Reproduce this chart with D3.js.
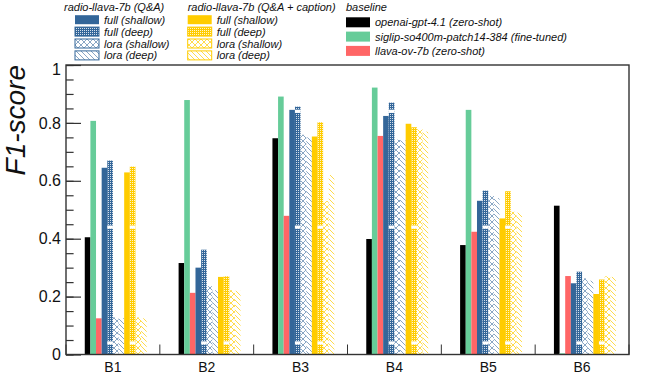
<!DOCTYPE html>
<html><head><meta charset="utf-8">
<script src="https://cdn.jsdelivr.net/npm/d3@7"></script>
<style>
body{margin:0;background:#fff}
svg{display:block}
text{font-family:"Liberation Sans",Arial,Helvetica,sans-serif}
</style>
</head><body><svg id="c" width="662" height="383"></svg>
<script>
// ---------------- data ----------------
const categories = ["B1","B2","B3","B4","B5","B6"];
const gpt41          = [0.405,0.316,0.747,0.399,0.378,0.514];
const siglip         = [0.807,0.879,0.891,0.922,0.845,0.004];
const llavaOv        = [0.125,0.213,0.479,0.755,0.424,0.271];
const qaFullShallow  = [0.645,0.300,0.845,0.824,0.531,0.246];
const qaFullDeep     = [0.670,0.362,0.856,0.870,0.566,0.286];
const qaLoraShallow  = [0.128,0.236,0.759,0.742,0.548,0.263];
const qaLoraDeep     = [0.125,0.222,0.750,0.740,0.540,0.255];
const capFullShallow = [0.629,0.268,0.753,0.797,0.470,0.209];
const capFullDeep    = [0.649,0.270,0.802,0.785,0.564,0.259];
const capLoraShallow = [0.128,0.222,0.530,0.778,0.493,0.270];
const capLoraDeep    = [0.125,0.220,0.620,0.770,0.490,0.268];
const yTickValues = [0,0.2,0.4,0.6,0.8,1];
const yTickLabels = ["0","0.2","0.4","0.6","0.8","1"];
const yAxisTitle = "F1-score";

// ---------------- styles ----------------
const BLUE = "#336699", YELLOW = "#ffcc00", GREEN = "#66cc99", RED = "#ff6666", BLACK = "#000000";
const series = [
  {key:"gpt",  label:"openai-gpt-4.1 (zero-shot)",           values:gpt41,          color:BLACK,  style:"solid"},
  {key:"sig",  label:"siglip-so400m-patch14-384 (fine-tuned)",values:siglip,        color:GREEN,  style:"solid"},
  {key:"ov",   label:"llava-ov-7b (zero-shot)",              values:llavaOv,        color:RED,    style:"solid"},
  {key:"qfs",  label:"full (shallow)", values:qaFullShallow,  color:BLUE,   style:"solid"},
  {key:"qfd",  label:"full (deep)",    values:qaFullDeep,     color:BLUE,   style:"dots"},
  {key:"qls",  label:"lora (shallow)", values:qaLoraShallow,  color:BLUE,   style:"cross"},
  {key:"qld",  label:"lora (deep)",    values:qaLoraDeep,     color:BLUE,   style:"diag"},
  {key:"cfs",  label:"full (shallow)", values:capFullShallow, color:YELLOW, style:"solid"},
  {key:"cfd",  label:"full (deep)",    values:capFullDeep,    color:YELLOW, style:"dots"},
  {key:"cls",  label:"lora (shallow)", values:capLoraShallow, color:YELLOW, style:"cross"},
  {key:"cld",  label:"lora (deep)",    values:capLoraDeep,    color:YELLOW, style:"diag"}
];
const stripeLevels = [0.04,0.44,0.84];

const svg = d3.select("#c");
const L = 66, R = 629, T = 65, B = 354.5;
const FRAME = "#333";

// ---------------- patterns ----------------
const defs = svg.append("defs");
function lighten(c, k){ return d3.interpolateRgb(c, "#ffffff")(k); }
function pid(color, style){ return style + "-" + color.replace("#",""); }
[BLUE, YELLOW].forEach(col => {
  const d = defs.append("pattern").attr("id", pid(col,"dots"))
    .attr("patternUnits","userSpaceOnUse").attr("width",2).attr("height",2);
  d.append("rect").attr("width",2).attr("height",2).attr("fill",col);
  d.append("rect").attr("width",1).attr("height",1).attr("fill","#fff").attr("opacity",0.8);

  const lc = lighten(col, col===BLUE ? 0.42 : 0.3);
  const c = defs.append("pattern").attr("id", pid(col,"cross"))
    .attr("patternUnits","userSpaceOnUse").attr("width",6).attr("height",6);
  c.append("path").attr("d","M0,0L6,6M6,0L0,6M-1,5L1,7M5,-1L7,1M-1,1L1,-1M5,7L7,5")
    .attr("stroke",lc).attr("stroke-width",1).attr("fill","none");

  const g = defs.append("pattern").attr("id", pid(col,"diag"))
    .attr("patternUnits","userSpaceOnUse").attr("width",5).attr("height",5);
  g.append("path").attr("d","M0,0L5,5M-1,4L1,6M4,-1L6,1")
    .attr("stroke",lc).attr("stroke-width",1).attr("fill","none");
});
function fillFor(s){ return s.style==="solid" ? s.color : "url(#"+pid(s.color,s.style)+")"; }

// ---------------- scales ----------------
const x = d3.scaleBand().domain(categories).range([L,R]).padding(0);
const bw = x.bandwidth();
const inner = d3.scaleBand().domain(series.map(s=>s.key))
  .range([0.2*bw, 0.2*bw + series.length*0.06*bw]).padding(0);
const y = d3.scaleLinear().domain([0,1]).range([B,T]);

// ---------------- bars ----------------
const barsG = svg.append("g");
series.forEach(s => {
  const g = barsG.append("g");
  g.selectAll("rect").data(categories.map((c,i)=>({c, v:s.values[i]})))
    .join("rect")
    .attr("x", d => x(d.c) + inner(s.key))
    .attr("width", inner.bandwidth())
    .attr("y", d => y(d.v))
    .attr("height", d => y(0) - y(d.v))
    .attr("fill", fillFor(s));
  if (s.style === "dots") {
    const stripes = [];
    categories.forEach((c,i)=> stripeLevels.forEach(l => { if (l < s.values[i]) stripes.push({c, l}); }));
    g.selectAll("rect.st").data(stripes).join("rect").attr("class","st")
      .attr("x", d => x(d.c) + inner(s.key))
      .attr("width", inner.bandwidth())
      .attr("y", d => y(d.l) - 1.6)
      .attr("height", 3.2)
      .attr("fill", "#fff");
  }
});

// ---------------- axes ----------------
const yMinor = d3.range(0, 1.0001, 0.05);
svg.append("g").attr("transform",`translate(${L},0)`)
  .call(d3.axisLeft(y).tickValues(yMinor).tickSizeInner(-7.6).tickSizeOuter(0).tickFormat(""))
  .call(g => { g.select(".domain").remove(); g.selectAll("line").attr("stroke",FRAME).attr("stroke-width",1.2); });
svg.append("g").attr("transform",`translate(${L},0)`)
  .call(d3.axisLeft(y).tickValues(yTickValues).tickSizeInner(-15).tickSizeOuter(0).tickPadding(5)
        .tickFormat((d,i)=>yTickLabels[i]))
  .call(g => {
    g.select(".domain").remove();
    g.selectAll("line").attr("stroke",FRAME).attr("stroke-width",1.2);
    g.selectAll("text").attr("font-size",16).attr("fill","#111")
      .attr("font-family",'"Liberation Sans",Arial,sans-serif')
      .attr("dy", d => d === 1 ? "0.62em" : "0.32em");
  });

// x boundary ticks
const bounds = categories.map(c => x(c)).concat([R]);
svg.append("g").selectAll("line").data(bounds).join("line")
  .attr("x1",d=>d).attr("x2",d=>d).attr("y1",B).attr("y2",B-10)
  .attr("stroke",FRAME).attr("stroke-width",1);

svg.append("g").attr("transform",`translate(0,${B})`)
  .call(d3.axisBottom(x).tickSize(0).tickPadding(7.3))
  .call(g => {
    g.select(".domain").remove();
    g.selectAll("text").attr("font-size",14).attr("fill","#111")
      .attr("font-family",'"Liberation Sans",Arial,sans-serif');
  });

// frame
svg.append("rect").attr("x",L).attr("y",T).attr("width",R-L).attr("height",B-T)
  .attr("fill","none").attr("stroke",FRAME).attr("stroke-width",1.4);

// y title
svg.append("text").attr("transform",`translate(25,${T}) rotate(-90)`)
  .attr("text-anchor","end").attr("font-size",28).attr("font-style","italic").attr("fill","#111")
  .text(yAxisTitle);

// ---------------- legend ----------------
const legendCols = [
  {title:"radio-llava-7b (Q&A)",           x:64,  sx:75,  tx:104, keys:["qfs","qfd","qls","qld"], y0:19.7, dy:11.9, h:9},
  {title:"radio-llava-7b (Q&A + caption)", x:187.7, sx:187.7, tx:216.7, keys:["cfs","cfd","cls","cld"], y0:19.7, dy:11.9, h:9},
  {title:"baseline",                       x:346, sx:346, tx:375, keys:["gpt","sig","ov"], y0:22.3, dy:14.3, h:10}
];
const lg = svg.append("g");
legendCols.forEach(col => {
  lg.append("text").attr("x",col.x).attr("y",10.5).attr("font-size",11).attr("font-style","italic")
    .attr("fill","#111").text(col.title);
  col.keys.forEach((k,i) => {
    const s = series.find(z=>z.key===k);
    const cy = col.y0 + i*col.dy;
    lg.append("rect").attr("x",col.sx).attr("y",cy-col.h/2).attr("width",24).attr("height",col.h)
      .attr("fill",fillFor(s))
      .attr("stroke", s.style==="solid" ? "none" : s.color).attr("stroke-width",1);
    lg.append("text").attr("x",col.tx).attr("y",cy+4).attr("font-size",11).attr("font-style","italic")
      .attr("fill","#111").text(s.label);
  });
});
</script>
</body></html>
